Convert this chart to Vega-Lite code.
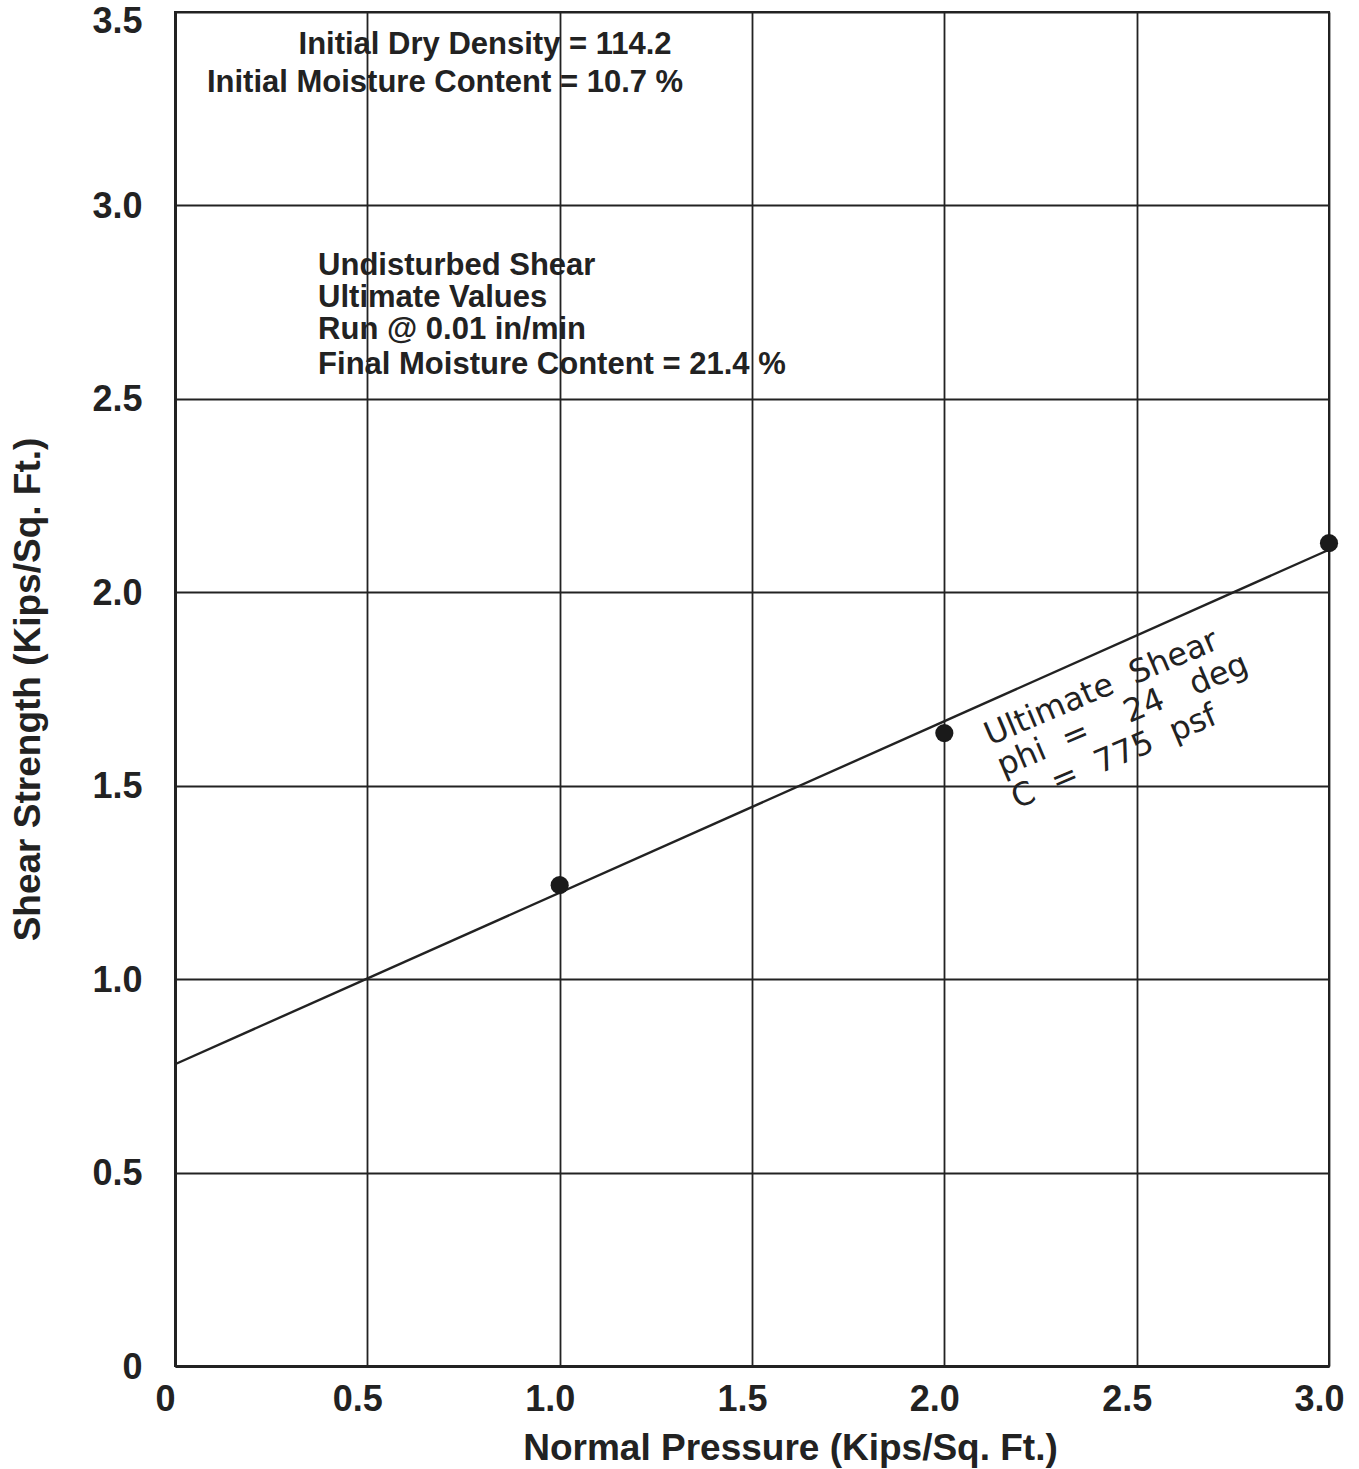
{
  "$schema": "https://vega.github.io/schema/vega-lite/v6.json",
  "width": 1154,
  "height": 1354,
  "autosize": {"type": "none"},
  "padding": {"left": 175, "top": 12, "right": 30, "bottom": 103},
  "background": "white",
  "config": {
    "view": {"stroke": "#222", "strokeWidth": 2},
    "axis": {
      "grid": true,
      "gridColor": "#222",
      "gridWidth": 1.8,
      "gridOpacity": 1,
      "ticks": false,
      "domain": true,
      "domainColor": "#222",
      "domainWidth": 3,
      "labelFont": "Liberation Sans",
      "labelFontWeight": "bold",
      "labelFontSize": 36,
      "labelColor": "#222",
      "labelFlush": false,
      "titleFont": "Liberation Sans",
      "titleFontWeight": "bold",
      "titleFontSize": 37,
      "titleColor": "#222"
    }
  },
  "datasets": {
    "points": [
      {"normal": 1.0, "shear": 1.243},
      {"normal": 2.0, "shear": 1.636},
      {"normal": 3.0, "shear": 2.127}
    ],
    "fit": [
      {"normal": 0.0, "shear": 0.78},
      {"normal": 3.0, "shear": 2.11}
    ],
    "topnotes": [
      {"normal": 0.806, "shear": 3.414, "label": "Initial Dry Density = 114.2"},
      {"normal": 0.702, "shear": 3.316, "label": "Initial Moisture Content = 10.7 %"}
    ],
    "notes": [
      {"normal": 0.372, "shear": 2.843, "label": "Undisturbed Shear"},
      {"normal": 0.372, "shear": 2.760, "label": "Ultimate Values"},
      {"normal": 0.372, "shear": 2.678, "label": "Run @ 0.01 in/min"},
      {"normal": 0.372, "shear": 2.587, "label": "Final Moisture Content = 21.4 %"}
    ],
    "fitnotes": [
      {"normal": 2.119, "shear": 1.603, "label": "Ultimate\u00a0\u00a0Shear"},
      {"normal": 2.152, "shear": 1.523, "label": "phi\u00a0\u00a0=\u00a0\u00a0\u00a0\u00a024\u00a0\u00a0\u00a0deg"},
      {"normal": 2.189, "shear": 1.440, "label": "C\u00a0\u00a0=\u00a0\u00a0775\u00a0\u00a0psf"}
    ]
  },
  "encoding": {
    "x": {
      "field": "normal",
      "type": "quantitative",
      "scale": {"domain": [0, 3], "nice": false, "zero": false},
      "axis": {
        "title": "Normal Pressure (Kips/Sq. Ft.)",
        "values": [0, 0.5, 1, 1.5, 2, 2.5, 3],
        "labelExpr": "datum.value == 0 ? '0' : format(datum.value, '.1f')",
        "labelPadding": 16,
        "labelOffset": -10,
        "titlePadding": 13,
        "titleX": 615
      }
    },
    "y": {
      "field": "shear",
      "type": "quantitative",
      "scale": {"domain": [0, 3.5], "nice": false, "zero": false},
      "axis": {
        "title": "Shear Strength (Kips/Sq. Ft.)",
        "values": [0, 0.5, 1, 1.5, 2, 2.5, 3, 3.5],
        "labelExpr": "datum.value == 0 ? '0' : format(datum.value, '.1f')",
        "labelPadding": 33,
        "titlePadding": 44,
        "labelOffset": {"condition": {"test": "datum.value == 3.5", "value": 9}, "value": 1}
      }
    }
  },
  "layer": [
    {
      "data": {"name": "fit"},
      "mark": {"type": "line", "color": "#222", "strokeWidth": 2.4}
    },
    {
      "data": {"name": "points"},
      "mark": {"type": "point", "filled": true, "color": "#1a1a1a", "size": 330, "opacity": 1}
    },
    {
      "data": {"name": "topnotes"},
      "mark": {"type": "text", "align": "center", "baseline": "middle", "font": "Liberation Sans", "fontWeight": "bold", "fontSize": 31, "color": "#222"},
      "encoding": {"text": {"field": "label"}}
    },
    {
      "data": {"name": "notes"},
      "mark": {"type": "text", "align": "left", "baseline": "middle", "font": "Liberation Sans", "fontWeight": "bold", "fontSize": 31, "color": "#222"},
      "encoding": {"text": {"field": "label"}}
    },
    {
      "data": {"name": "fitnotes"},
      "mark": {"type": "text", "align": "left", "baseline": "alphabetic", "angle": -23, "font": "DejaVu Sans", "fontWeight": "normal", "fontSize": 32, "color": "#222"},
      "encoding": {"text": {"field": "label"}}
    }
  ]
}
